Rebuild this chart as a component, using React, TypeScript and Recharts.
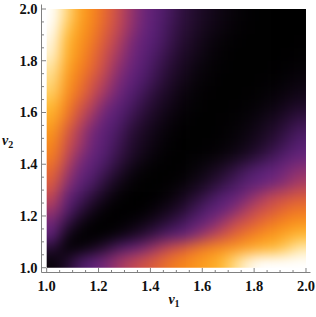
import React from 'react';
import { ComposedChart, XAxis, YAxis, ReferenceArea, Scatter } from 'recharts';

// cell centres (nu1 across, nu2 down from the top)
const nu1 = [1.025, 1.075, 1.125, 1.175, 1.225, 1.275, 1.325, 1.375, 1.425, 1.475, 1.525, 1.575, 1.625, 1.675, 1.725, 1.775, 1.825, 1.875, 1.925, 1.975];
const nu2 = [1.975, 1.925, 1.875, 1.825, 1.775, 1.725, 1.675, 1.625, 1.575, 1.525, 1.475, 1.425, 1.375, 1.325, 1.275, 1.225, 1.175, 1.125, 1.075, 1.025];
const cellSize = 0.05;

// level: 0 = black ... 10 = white
const r1975 = [10, 8.8, 7.4, 6.4, 5.4, 4.4, 3.5, 2.8, 2.2, 1.7, 1.2, 0.85, 0.55, 0.32, 0.15, 0.03, 0, 0, 0, 0];
const r1925 = [9.9, 8.4, 7.2, 6.2, 5.2, 4.2, 3.4, 2.7, 2.1, 1.55, 1.1, 0.75, 0.45, 0.25, 0.1, 0.02, 0, 0, 0, 0];
const r1875 = [9.7, 8.0, 6.9, 5.95, 4.95, 3.95, 3.1, 2.5, 1.95, 1.45, 0.97, 0.6, 0.3, 0.12, 0.03, 0, 0, 0, 0, 0.02];
const r1825 = [9.5, 7.8, 6.7, 5.6, 4.6, 3.7, 2.95, 2.3, 1.75, 1.25, 0.8, 0.5, 0.22, 0.08, 0, 0, 0, 0, 0.02, 0.05];
const r1775 = [9.1, 7.5, 6.3, 5.4, 4.3, 3.4, 2.75, 2.05, 1.55, 1.05, 0.65, 0.3, 0.12, 0.03, 0, 0, 0, 0.02, 0.06, 0.12];
const r1725 = [8.8, 7.1, 5.95, 4.95, 3.95, 3.1, 2.5, 1.85, 1.35, 0.85, 0.5, 0.2, 0.07, 0, 0, 0, 0.02, 0.06, 0.14, 0.25];
const r1675 = [8.5, 6.8, 5.6, 4.5, 3.6, 2.85, 2.05, 1.55, 1.05, 0.65, 0.28, 0.1, 0.02, 0, 0, 0.02, 0.06, 0.15, 0.28, 0.45];
const r1625 = [8.0, 6.3, 5.0, 3.95, 3.05, 2.4, 1.75, 1.25, 0.8, 0.45, 0.18, 0.05, 0, 0, 0.02, 0.06, 0.15, 0.3, 0.55, 0.8];
const r1575 = [7.5, 5.8, 4.4, 3.45, 2.65, 2.0, 1.45, 0.95, 0.58, 0.25, 0.08, 0, 0, 0.02, 0.06, 0.15, 0.35, 0.6, 0.95, 1.3];
const r1525 = [6.9, 5.15, 3.85, 2.95, 2.3, 1.75, 1.1, 0.7, 0.35, 0.12, 0.02, 0, 0, 0.03, 0.12, 0.3, 0.55, 0.9, 1.3, 1.75];
const r1475 = [6.4, 4.8, 3.7, 2.8, 2.15, 1.55, 0.95, 0.55, 0.25, 0.06, 0, 0, 0.02, 0.08, 0.22, 0.45, 0.8, 1.2, 1.65, 2.1];
const r1425 = [6.0, 4.3, 3.2, 2.55, 1.9, 1.3, 0.75, 0.35, 0.1, 0, 0, 0.03, 0.1, 0.25, 0.5, 0.85, 1.25, 1.7, 2.2, 2.7];
const r1375 = [5.4, 3.8, 2.8, 2.15, 1.55, 0.95, 0.35, 0.08, 0, 0, 0.02, 0.15, 0.45, 0.8, 1.25, 1.75, 2.2, 2.6, 3.0, 3.35];
const r1325 = [5.0, 3.35, 2.4, 1.75, 1.05, 0.45, 0.1, 0, 0, 0.02, 0.15, 0.42, 0.8, 1.25, 1.7, 2.15, 2.55, 2.95, 3.35, 3.8];
const r1275 = [4.2, 2.7, 1.8, 1.15, 0.55, 0.12, 0, 0, 0.03, 0.2, 0.55, 1.0, 1.5, 2.0, 2.5, 3.1, 3.7, 4.2, 4.6, 5.0];
const r1225 = [3.6, 2.15, 1.25, 0.55, 0.1, 0, 0, 0.02, 0.25, 0.55, 1.0, 1.55, 2.1, 2.6, 3.2, 3.9, 4.5, 5.0, 5.5, 5.8];
const r1175 = [2.9, 1.4, 0.5, 0.08, 0, 0.03, 0.15, 0.38, 0.75, 1.2, 1.65, 2.2, 2.85, 3.5, 4.2, 4.85, 5.4, 5.95, 6.4, 6.8];
const r1125 = [2.4, 0.5, 0.05, 0, 0.05, 0.28, 0.65, 1.1, 1.6, 2.1, 2.6, 3.2, 3.9, 4.6, 5.3, 5.95, 6.5, 7.0, 7.5, 8.0];
const r1075 = [1.0, 0.1, 0.15, 0.5, 1.1, 1.8, 2.45, 3.05, 3.7, 4.35, 5.05, 5.7, 6.2, 6.6, 7.0, 7.35, 7.7, 8.0, 8.5, 9.2];
const r1025 = [0.2, 0.8, 1.7, 2.4, 3.0, 3.6, 4.1, 4.7, 5.2, 5.8, 6.3, 6.8, 7.3, 7.9, 8.8, 9.6, 10, 10, 10, 10];
const levelRows = [r1975, r1925, r1875, r1825, r1775, r1725, r1675, r1625, r1575, r1525, r1475, r1425, r1375, r1325, r1275, r1225, r1175, r1125, r1075, r1025];

const tickValues = [1.0, 1.05, 1.1, 1.15, 1.2, 1.25, 1.3, 1.35, 1.4, 1.45, 1.5, 1.55, 1.6, 1.65, 1.7, 1.75, 1.8, 1.85, 1.9, 1.95, 2.0];
const corners = [{ x: 1, y: 1 }, { x: 2, y: 2 }];

// colour ramp (style)
const STOPS: [number, number, number, number][] = [
  [0, 0, 0, 0],
  [1, 38, 13, 50],
  [2, 84, 30, 112],
  [2.6, 98, 34, 124],
  [3.0, 118, 40, 120],
  [3.6, 158, 54, 104],
  [4.2, 194, 72, 84],
  [4.9, 214, 86, 66],
  [5.5, 234, 108, 44],
  [6.3, 247, 134, 27],
  [7.2, 252, 160, 30],
  [8.1, 255, 190, 56],
  [9, 255, 226, 150],
  [10, 255, 255, 255],
];
function colorOf(l: number): string {
  const v = Math.max(0, Math.min(10, l));
  for (let i = 1; i < STOPS.length; i++) {
    const a = STOPS[i - 1];
    const b = STOPS[i];
    if (v <= b[0]) {
      const t = (v - a[0]) / (b[0] - a[0]);
      const c = [1, 2, 3].map((k) => Math.round(a[k] + (b[k] - a[k]) * t));
      return `rgb(${c[0]},${c[1]},${c[2]})`;
    }
  }
  return '#fff';
}

const HeatShape = (props: any) => {
  const { x, y, width, height } = props;
  const sx = (v: number) => x + (v - 1) * width;
  const sy = (v: number) => y + (2 - v) * height;
  const rects: React.ReactNode[] = [];
  const n = nu1.length;
  const m = nu2.length;
  levelRows.forEach((row, i) => {
    row.forEach((lv, j) => {
      let a = nu1[j] - cellSize / 2;
      let b = nu1[j] + cellSize / 2;
      let top = nu2[i] + cellSize / 2;
      let bot = nu2[i] - cellSize / 2;
      if (j === 0) a -= 0.1;
      if (j === n - 1) b += 0.1;
      if (i === 0) top += 0.1;
      if (i === m - 1) bot -= 0.1;
      rects.push(
        <rect key={`${i}-${j}`} x={sx(a)} y={sy(top)} width={sx(b) - sx(a) + 0.6} height={sy(bot) - sy(top) + 0.6} fill={colorOf(lv)} />
      );
    });
  });
  return (
    <g>
      <defs>
        <filter id="heatBlur" x="-20%" y="-20%" width="140%" height="140%" colorInterpolationFilters="sRGB">
          <feGaussianBlur stdDeviation="7" />
        </filter>
        <clipPath id="heatClip">
          <rect x={x} y={y} width={width} height={height} />
        </clipPath>
      </defs>
      <g clipPath="url(#heatClip)">
        <g filter="url(#heatBlur)">{rects}</g>
      </g>
    </g>
  );
};

const FRAME = '#808080';
const FONT = '"Liberation Serif", "Times New Roman", serif';
const isMajor = (v: number) => Math.abs(v * 5 - Math.round(v * 5)) < 1e-6;

const BottomTick = (p: any) => {
  const v = p.payload.value;
  const len = isMajor(v) ? 4.5 : 2.5;
  return (
    <g>
      <line x1={p.x} x2={p.x} y1={p.y} y2={p.y - len} stroke={FRAME} strokeWidth={1} />
      {isMajor(v) && (
        <text x={p.x} y={p.y + 18} textAnchor="middle" fontFamily={FONT} fontWeight="bold" fontSize={14.5} fill="#111">
          {v.toFixed(1)}
        </text>
      )}
    </g>
  );
};
const TopTick = (p: any) => {
  const v = p.payload.value;
  const len = isMajor(v) ? 4.5 : 2.5;
  return <line x1={p.x} x2={p.x} y1={p.y} y2={p.y + len} stroke={FRAME} strokeWidth={1} />;
};
const LeftTick = (p: any) => {
  const v = p.payload.value;
  const len = isMajor(v) ? 4.5 : 2.5;
  return (
    <g>
      <line x1={p.x} x2={p.x + len} y1={p.y} y2={p.y} stroke={FRAME} strokeWidth={1} />
      {isMajor(v) && (
        <text x={p.x - 4} y={p.y + 5} textAnchor="end" fontFamily={FONT} fontWeight="bold" fontSize={14.5} fill="#111">
          {v.toFixed(1)}
        </text>
      )}
    </g>
  );
};
const RightTick = (p: any) => {
  const v = p.payload.value;
  const len = isMajor(v) ? 4.5 : 2.5;
  return <line x1={p.x} x2={p.x - len} y1={p.y} y2={p.y} stroke={FRAME} strokeWidth={1} />;
};

const XTitle = (p: any) => {
  const vb = p.viewBox || { x: 41.5, width: 269, y: 272.5 };
  return (
    <text x={vb.x + vb.width / 2 - 2} y={vb.y + 31} textAnchor="middle" fontFamily={FONT} fontWeight="bold" fontStyle="italic" fontSize={14} fill="#111">
      ν<tspan fontSize={10} dy={3} fontStyle="normal">1</tspan>
    </text>
  );
};
const YTitle = (p: any) => {
  const vb = p.viewBox || { x: 0, width: 41.5, y: 4.5, height: 268 };
  return (
    <text x={2} y={vb.y + vb.height / 2 + 6} textAnchor="start" fontFamily={FONT} fontWeight="bold" fontStyle="italic" fontSize={14} fill="#111">
      ν<tspan fontSize={10} dy={3} fontStyle="normal">2</tspan>
    </text>
  );
};

export default function App() {
  return (
    <div style={{ position: 'absolute', left: 0, top: 0, width: 316, height: 317, background: '#fff' }}>
      <ComposedChart width={316} height={317} data={corners} margin={{ top: 4.5, right: 5.5, bottom: 0, left: 0 }}>
        <XAxis
          xAxisId={0}
          type="number"
          dataKey="x"
          domain={[0.98, 2.0174]}
          ticks={tickValues}
          interval={0}
          allowDataOverflow
          orientation="bottom"
          height={44.5}
          tickSize={0}
          tickMargin={0}
          tickLine={false}
          axisLine={{ stroke: FRAME }}
          tick={<BottomTick />}
          label={<XTitle />}
        />
        <XAxis
          xAxisId="top"
          type="number"
          dataKey="x"
          domain={[0.98, 2.0174]}
          ticks={tickValues}
          interval={0}
          allowDataOverflow
          orientation="top"
          height={0}
          tickSize={0}
          tickMargin={0}
          tickLine={false}
          axisLine={{ stroke: FRAME }}
          tick={<TopTick />}
        />
        <YAxis
          yAxisId={0}
          type="number"
          dataKey="y"
          domain={[0.9815, 2.0174]}
          ticks={tickValues}
          interval={0}
          allowDataOverflow
          orientation="left"
          width={41.5}
          tickSize={0}
          tickMargin={0}
          tickLine={false}
          axisLine={{ stroke: FRAME }}
          tick={<LeftTick />}
          label={<YTitle />}
        />
        <YAxis
          yAxisId="right"
          type="number"
          dataKey="y"
          domain={[0.9815, 2.0174]}
          ticks={tickValues}
          interval={0}
          allowDataOverflow
          orientation="right"
          width={0}
          tickSize={0}
          tickMargin={0}
          tickLine={false}
          axisLine={{ stroke: FRAME }}
          tick={<RightTick />}
        />
        <ReferenceArea xAxisId={0} yAxisId={0} x1={1} x2={2} y1={1} y2={2} shape={HeatShape} />
        <Scatter xAxisId={0} yAxisId={0} dataKey="y" isAnimationActive={false} shape={() => <g />} />
      </ComposedChart>
    </div>
  );
}
